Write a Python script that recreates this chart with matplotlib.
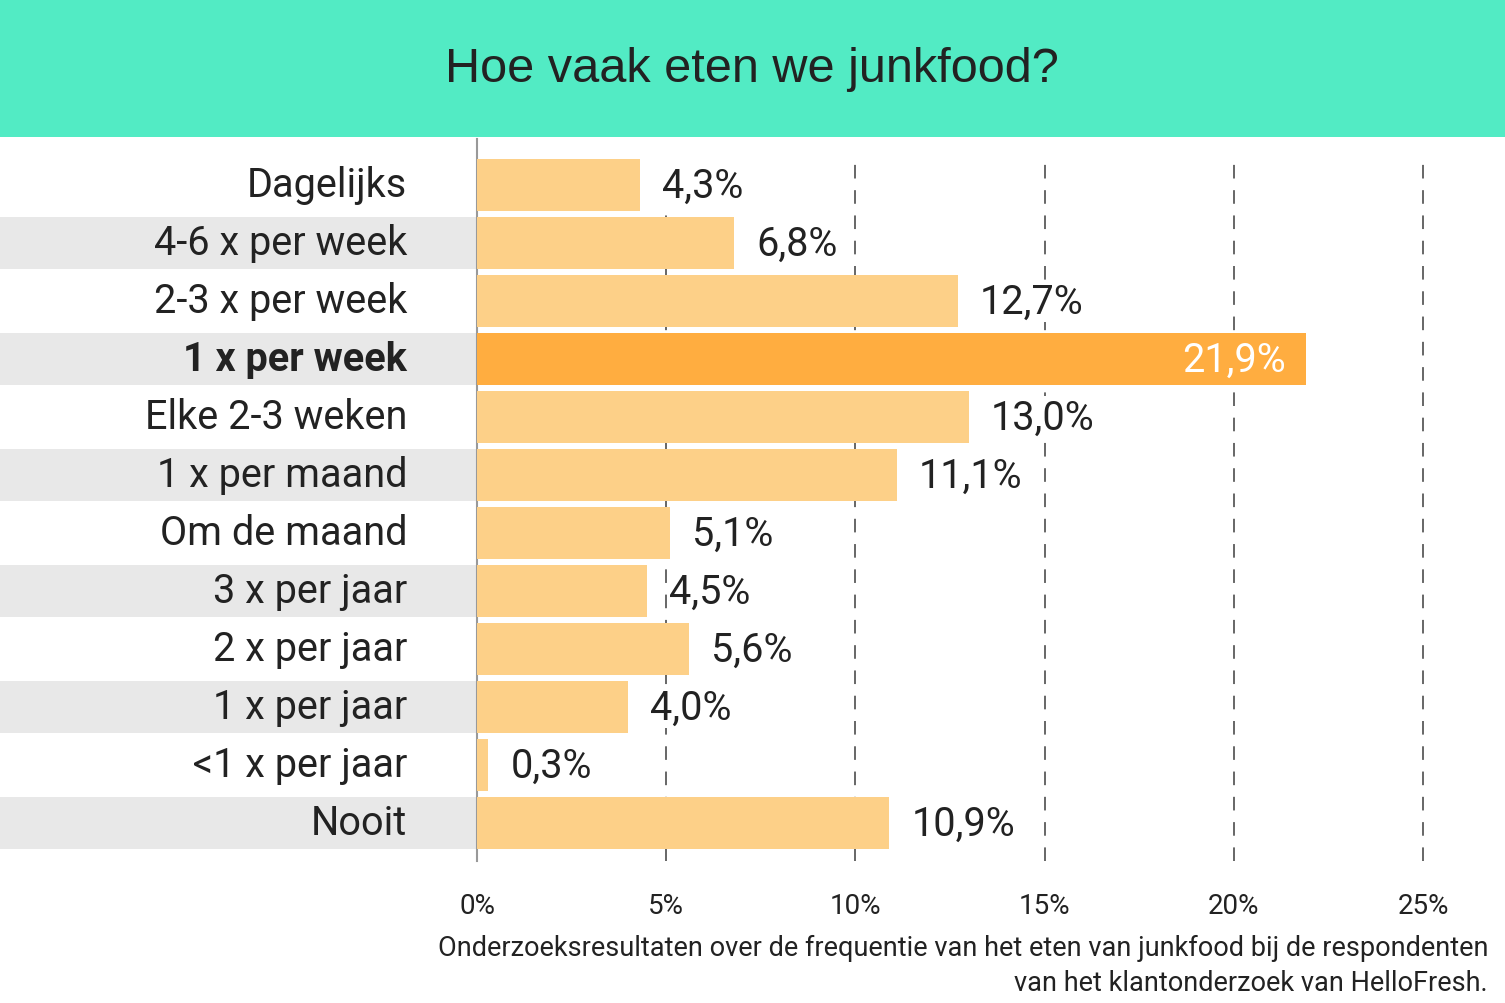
import matplotlib
matplotlib.use("Agg")
import matplotlib.pyplot as plt
from matplotlib import font_manager

categories = ["Dagelijks", "4-6 x per week", "2-3 x per week", "1 x per week",
              "Elke 2-3 weken", "1 x per maand", "Om de maand", "3 x per jaar",
              "2 x per jaar", "1 x per jaar", "<1 x per jaar", "Nooit"]
values = [4.3, 6.8, 12.7, 21.9, 13.0, 11.1, 5.1, 4.5, 5.6, 4.0, 0.3, 10.9]
value_labels = ["4,3%", "6,8%", "12,7%", "21,9%", "13,0%", "11,1%", "5,1%",
                "4,5%", "5,6%", "4,0%", "0,3%", "10,9%"]
highlight = "1 x per week"
ticks = [0, 5, 10, 15, 20, 25]
tick_labels = ["0%", "5%", "10%", "15%", "20%", "25%"]
title = "Hoe vaak eten we junkfood?"
caption = ("Onderzoeksresultaten over de frequentie van het eten van junkfood bij de respondenten\n"
           "van het klantonderzoek van HelloFresh.")

names = {f.name for f in font_manager.fontManager.ttflist}
narrow = "Liberation Sans Narrow" if "Liberation Sans Narrow" in names else "Roboto"
FAM = [narrow, "DejaVu Sans"]
TFAM = ["Liberation Sans", "DejaVu Sans"]

W, H = 1505, 1004
fig = plt.figure(figsize=(W / 100, H / 100), dpi=100)
fig.patch.set_facecolor("white")

# title band
fig.patches.append(plt.Rectangle((0, 1 - 138 / H), 1, 138 / H, transform=fig.transFigure,
                                 facecolor="#52EBC4", edgecolor="none", zorder=0))
fig.text(752 / W, 1 - 70 / H, title, ha="center", va="center", fontsize=35,
         color="#222222", family=TFAM)

# axes
top_px, bot_px = 158, 862
ax = fig.add_axes([0, 1 - bot_px / H, 1, (bot_px - top_px) / H])
px_per_unit = (1423 - 477) / 25
ax.set_xlim(-477 / px_per_unit, (W - 477) / px_per_unit)
row = 58
ax.set_ylim(11 + (bot_px - 824) / row, -(186 - top_px) / row)
ax.set_facecolor("none")
for s in ax.spines.values():
    s.set_visible(False)

x0_frac = 477 / W
bh = 0.88
LFS = 28.5
for i, (cat, v, lab) in enumerate(zip(categories, values, value_labels)):
    if i % 2 == 1:
        ax.axhspan(i - bh / 2, i + bh / 2, xmin=0, xmax=x0_frac, facecolor="#E8E8E8",
                   edgecolor="none", zorder=1)
    hi = cat == highlight
    ax.barh(i, v, height=bh, color="#FFAD40" if hi else "#FDD088", zorder=3)
    ax.text(-70 / px_per_unit, i, cat, ha="right", va="center", fontsize=LFS,
            fontweight="bold" if hi else "normal", color="#222222", family=FAM, zorder=4)
    if hi:
        ax.text(v - 20 / px_per_unit, i, lab, ha="right", va="center", fontsize=LFS,
                color="white", family=FAM, zorder=4)
    else:
        ax.text(v + 22 / px_per_unit, i, lab, ha="left", va="center", fontsize=LFS,
                color="#222222", family=FAM, zorder=4,
                bbox=dict(facecolor="white", edgecolor="none", pad=1))

ax.axvline(0, ymin=0, ymax=1 + 18 / (bot_px - top_px), color="#999999", lw=1.5,
           zorder=2, clip_on=False)
ax.xaxis.grid(True, color="#666666", lw=1.4, linestyle=(0, (7, 6)), zorder=0)
ax.set_axisbelow(True)
ax.set_xticks(ticks)
ax.set_xticklabels(tick_labels, family=FAM, fontsize=20, color="#222222")
ax.tick_params(axis="x", length=0, pad=22)
ax.tick_params(axis="y", left=False, labelleft=False)
ax.get_xgridlines()[0].set_visible(False)

fig.text(1488 / W, 1 - 966 / H, caption, ha="right", va="center", fontsize=19.5,
         color="#222222", family=FAM, linespacing=1.35)

fig.savefig("out.png", dpi=100)
